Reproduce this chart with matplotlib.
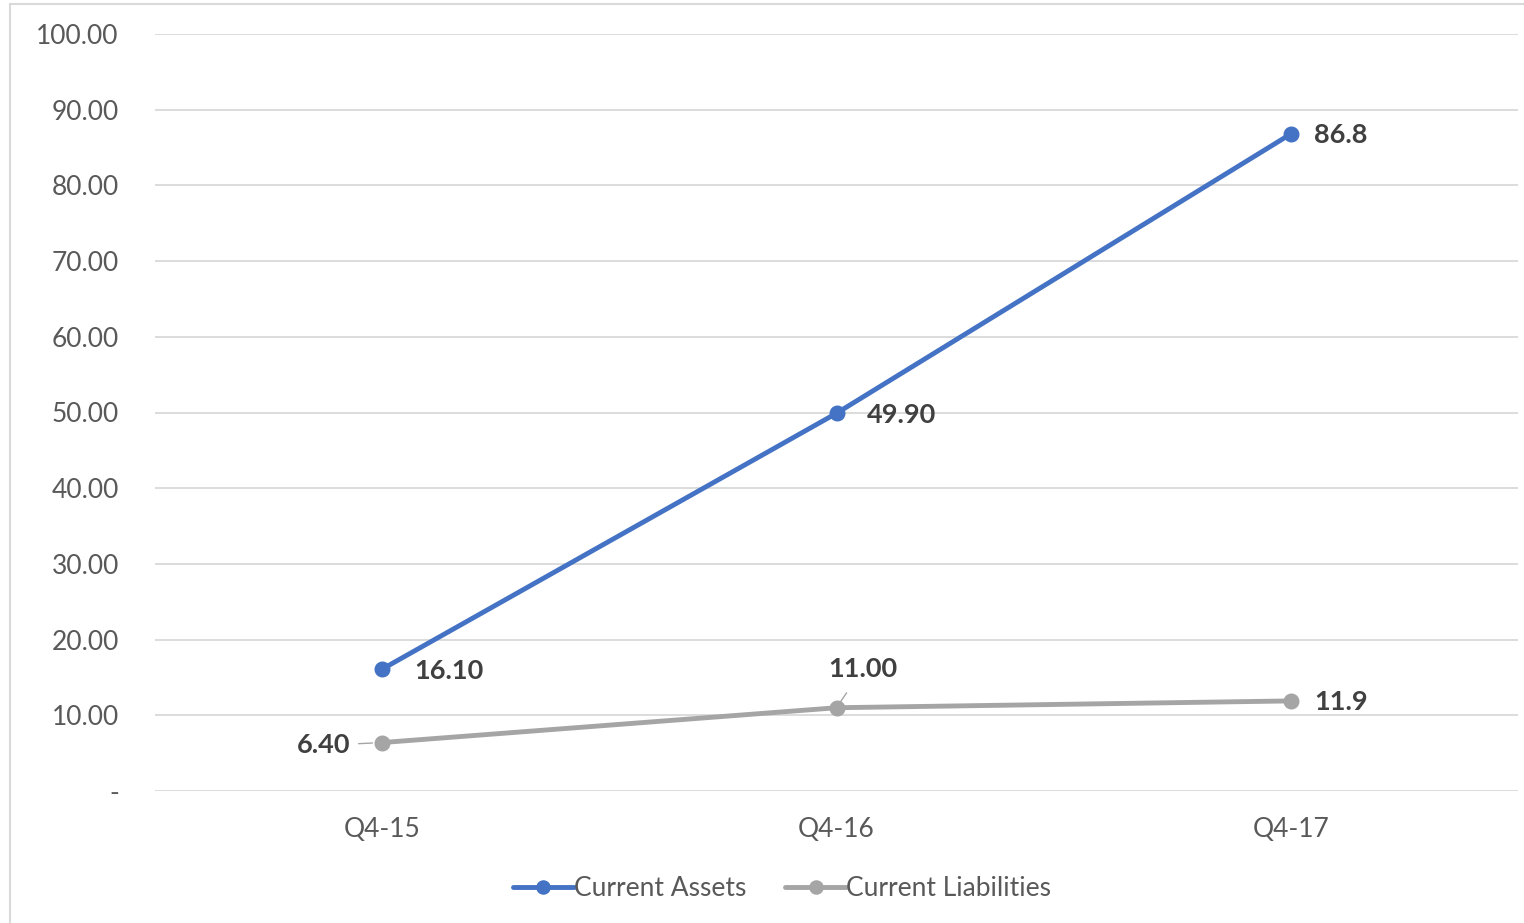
import matplotlib
matplotlib.use("Agg")
import matplotlib.pyplot as plt
from matplotlib.patches import Rectangle

categories = ["Q4-15", "Q4-16", "Q4-17"]
current_assets = [16.10, 49.90, 86.8]
current_liabilities = [6.40, 11.00, 11.9]
assets_labels = ["16.10", "49.90", "86.8"]
liab_labels = ["6.40", "11.00", "11.9"]
yticks = [0, 10, 20, 30, 40, 50, 60, 70, 80, 90, 100]
ytick_labels = ["-", "10.00", "20.00", "30.00", "40.00", "50.00", "60.00", "70.00", "80.00", "90.00", "100.00"]

plt.rcParams['font.family'] = ['Lato', 'DejaVu Sans']

BLUE = "#4472C4"
GRAY = "#A5A5A5"
TXT = "#595959"
LBL = "#404040"

fig = plt.figure(figsize=(15.24, 9.23), dpi=100)
ax = fig.add_axes([155/1524, 1-791/923, 1363/1524, 757/923])

x = list(range(len(categories)))
ax.plot(x, current_assets, color=BLUE, lw=3.5, marker="o", ms=10.5, label="Current Assets",
        solid_capstyle="round", zorder=3)
ax.plot(x, current_liabilities, color=GRAY, lw=3.5, marker="o", ms=10.5, label="Current Liabilities",
        solid_capstyle="round", zorder=3)

ax.set_xlim(-0.5, 2.5)
ax.set_ylim(0, 100)
ax.set_yticks(yticks)
ax.set_yticklabels(ytick_labels)
ax.set_xticks(x)
ax.set_xticklabels(categories)
ax.tick_params(axis="both", length=0, labelsize=19, labelcolor=TXT)
ax.tick_params(axis="y", pad=26)
ax.tick_params(axis="x", pad=19)
ax.grid(axis="y", color="#D9D9D9", lw=1.3)
ax.set_axisbelow(True)
for s in ax.spines.values():
    s.set_visible(False)

lblkw = dict(fontsize=19.5, fontweight="bold", color=LBL, va="center")
assets_dx = [23, 22, 17]
# Current Assets labels to the right
for i, (v, t) in enumerate(zip(current_assets, assets_labels)):
    ax.annotate(t, (i, v), xytext=(assets_dx[i], -1), textcoords="offset points", ha="left", **lblkw)
# Liabilities labels
ax.annotate(liab_labels[0], (0, current_liabilities[0]), xytext=(-23, -2), textcoords="offset points",
            ha="right", arrowprops=dict(arrowstyle="-", color=GRAY, lw=1, shrinkA=4, shrinkB=7), **lblkw)
ax.annotate(liab_labels[1], (1, current_liabilities[1]), xytext=(19, 28), textcoords="offset points",
            ha="center", arrowprops=dict(arrowstyle="-", color=GRAY, lw=1, shrinkA=8, shrinkB=4), **lblkw)
ax.annotate(liab_labels[2], (2, current_liabilities[2]), xytext=(17, -1), textcoords="offset points",
            ha="left", **lblkw)

leg = fig.legend(loc="center", bbox_to_anchor=(782/1524, 1-889/923), ncol=2, frameon=False,
                 fontsize=19, handlelength=2.3, handletextpad=0.0, columnspacing=1.5,
                 markerscale=0.9)
for t in leg.get_texts():
    t.set_color(TXT)

fig.patches.append(Rectangle((10/1524, -0.05), 1.2, 1.05 - 4/923, transform=fig.transFigure,
                             fill=False, edgecolor="#D9D9D9", lw=1.5))

fig.savefig("out.png", dpi=100)
